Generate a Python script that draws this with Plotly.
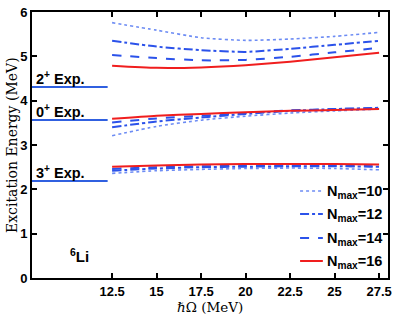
import plotly.graph_objects as go

hw = [12.5, 15, 17.5, 20, 22.5, 25, 27.5]

# 2+ state
e2_n10 = [5.76, 5.59, 5.42, 5.36, 5.39, 5.45, 5.54]
e2_n12 = [5.35, 5.22, 5.14, 5.10, 5.17, 5.26, 5.35]
e2_n14 = [5.03, 4.96, 4.91, 4.92, 4.99, 5.09, 5.19]
e2_n16 = [4.79, 4.74, 4.75, 4.80, 4.88, 4.98, 5.08]

# 0+ state
e0_n10 = [3.21, 3.42, 3.56, 3.65, 3.72, 3.77, 3.81]
e0_n12 = [3.40, 3.53, 3.62, 3.70, 3.77, 3.81, 3.84]
e0_n14 = [3.51, 3.60, 3.66, 3.72, 3.78, 3.81, 3.83]
e0_n16 = [3.59, 3.66, 3.70, 3.74, 3.77, 3.79, 3.81]

# 3+ state
e3_n10 = [2.36, 2.42, 2.45, 2.47, 2.48, 2.47, 2.44]
e3_n12 = [2.42, 2.47, 2.50, 2.51, 2.52, 2.52, 2.51]
e3_n14 = [2.46, 2.50, 2.52, 2.53, 2.53, 2.53, 2.52]
e3_n16 = [2.51, 2.54, 2.56, 2.57, 2.57, 2.57, 2.56]

exp_labels = ["2<sup>+</sup> Exp.", "0<sup>+</sup> Exp.", "3<sup>+</sup> Exp."]
exp_values = [4.31, 3.563, 2.186]
exp_x = [8.0, 12.25]

nmax_labels = ["N<sub>max</sub>=10", "N<sub>max</sub>=12", "N<sub>max</sub>=14", "N<sub>max</sub>=16"]
x_ticks = [12.5, 15, 17.5, 20, 22.5, 25, 27.5]
y_ticks = [0, 1, 2, 3, 4, 5, 6]

BLUE = "#2b52ea"
LBLUE = "#6d8cf4"
RED = "#f01e1e"
styles = [
    dict(color=LBLUE, width=1.6, dash="dot"),
    dict(color=BLUE, width=2, dash="dashdot"),
    dict(color=BLUE, width=2, dash="dash"),
    dict(color=RED, width=2, dash="solid"),
]

fig = go.Figure()

for ev in exp_values:
    fig.add_trace(go.Scatter(x=exp_x, y=[ev, ev], mode="lines",
                             line=dict(color="#3060e0", width=2), showlegend=False))

series = [
    [e2_n10, e0_n10, e3_n10],
    [e2_n12, e0_n12, e3_n12],
    [e2_n14, e0_n14, e3_n14],
    [e2_n16, e0_n16, e3_n16],
]
for st, group in zip(styles, series):
    for ys in group:
        fig.add_trace(go.Scatter(x=hw, y=ys, mode="lines", line=st,
                                 line_shape="spline", line_smoothing=0.6, showlegend=False))

bold = dict(family="Liberation Sans", size=14.5, color="black", weight="bold")

for lab, ev in zip(exp_labels, exp_values):
    fig.add_annotation(x=8.1, y=ev, text=lab, showarrow=False, xanchor="left",
                       yanchor="bottom", font=bold, yshift=-2)

fig.add_annotation(x=10.0, y=0.5, text="<sup>6</sup>Li", showarrow=False,
                   xanchor="left", yanchor="middle",
                   font=dict(family="Liberation Sans", size=15, color="black", weight="bold"))

# legend drawn manually
leg_y = [0.327, 0.241, 0.150, 0.064]
for st, lab, yy in zip(styles, nmax_labels, leg_y):
    fig.add_shape(type="line", xref="paper", yref="paper", x0=0.753, x1=0.817,
                  y0=yy, y1=yy, line=st)
    fig.add_annotation(xref="paper", yref="paper", x=0.822, y=yy, text=lab,
                       showarrow=False, xanchor="left", yanchor="middle", yshift=-1,
                       font=dict(family="Liberation Sans", size=14.5, color="black", weight="bold"))

# axis titles
fig.add_annotation(xref="paper", yref="paper", x=0.5, y=0, yshift=-29, text="ℏΩ (MeV)",
                   showarrow=False, xanchor="center", yanchor="middle",
                   font=dict(family="DejaVu Serif", size=13.5, color="black"))
fig.add_annotation(xref="paper", yref="paper", x=0, xshift=-20, y=0.5, text="Excitation Energy (MeV)",
                   showarrow=False, xanchor="center", yanchor="middle", textangle=-90,
                   font=dict(family="DejaVu Serif", size=14, color="black"))

axis_common = dict(showline=True, linecolor="black", linewidth=2, mirror="ticks",
                   ticks="inside", ticklen=5, tickwidth=1.5, tickcolor="black",
                   showgrid=False, zeroline=False, automargin=False,
                   tickfont=dict(family="Liberation Sans", size=13, color="black", weight="bold"))

fig.update_xaxes(range=[8, 28], tickvals=x_ticks, ticktext=[str(v) for v in x_ticks],
                 ticklabelstandoff=0, **axis_common)
fig.update_yaxes(range=[0, 6], tickvals=y_ticks, **axis_common)

fig.update_layout(width=395, height=315, margin=dict(l=32, r=7, t=12, b=37),
                  plot_bgcolor="white", paper_bgcolor="white", showlegend=False)

fig.write_html("out.html", config={"displayModeBar": False})

# remove the default page margin so the figure sits at the window origin
with open("out.html", "r", encoding="utf-8") as f:
    html = f.read()
html = html.replace("<head>", "<head><style>html,body{margin:0;padding:0;overflow:hidden;}</style>", 1)
with open("out.html", "w", encoding="utf-8") as f:
    f.write(html)
